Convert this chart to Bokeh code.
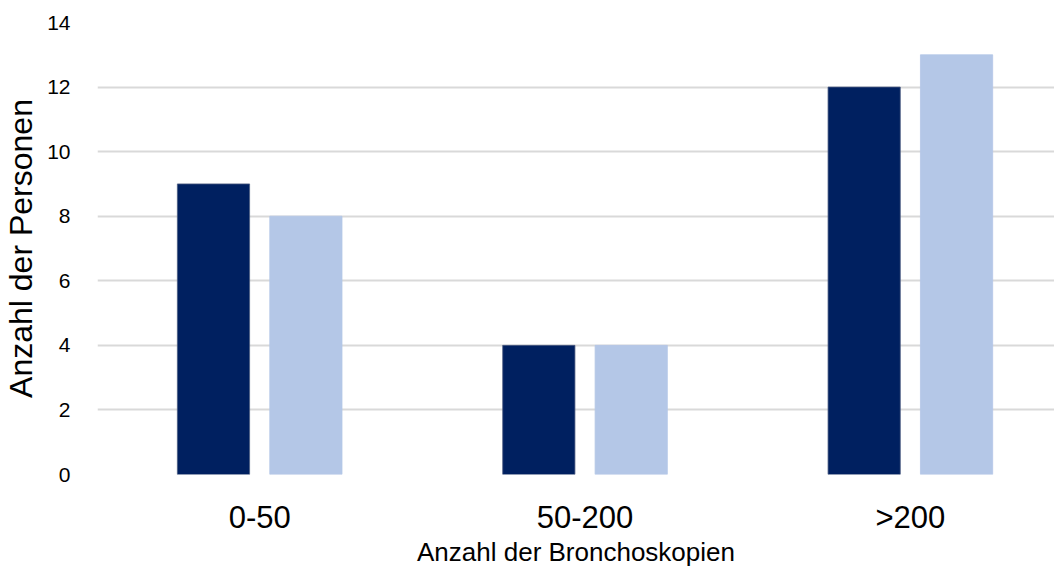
from bokeh.plotting import figure
from bokeh.models import Range1d, FixedTicker, ColumnDataSource
from bokeh.embed import file_html
from bokeh.resources import INLINE

categories = ["0-50", "50-200", ">200"]
series_a = [9, 4, 12]
series_b = [8, 4, 13]
y_ticks = [0, 2, 4, 6, 8, 10, 12, 14]
x_title = "Anzahl der Bronchoskopien"
y_title = "Anzahl der Personen"

centers = [i + 0.5 for i in range(len(categories))]
offset = 0.142
bar_w = 0.222

src_a = ColumnDataSource(dict(x=[c - offset for c in centers], top=series_a))
src_b = ColumnDataSource(dict(x=[c + offset for c in centers], top=series_b))

p = figure(width=1054, height=569, output_backend="svg", toolbar_location=None,
           x_range=Range1d(0.0015, 0.0015 + 956 / 325), y_range=Range1d(0, 14),
           min_border_left=90, min_border_right=0, min_border_top=22, min_border_bottom=95)
p.outline_line_color = None
p.background_fill_color = "white"
p.border_fill_color = "white"

p.vbar(x="x", top="top", width=bar_w, bottom=0, source=src_a,
       fill_color="#002060", line_color="#4a5a80", line_width=0.8)
p.vbar(x="x", top="top", width=bar_w, bottom=0, source=src_b,
       fill_color="#B4C7E7", line_color="#B4C7E7", line_width=0.8)

font = "Liberation Sans"

p.xgrid.visible = False
p.ygrid.grid_line_color = "#d9d9d9"
p.ygrid.grid_line_width = 2
p.ygrid.level = "underlay"

p.yaxis.ticker = FixedTicker(ticks=y_ticks)
p.yaxis.axis_line_color = None
p.yaxis.major_tick_line_color = None
p.yaxis.minor_tick_line_color = None
p.yaxis.major_label_text_font = font
p.yaxis.major_label_text_font_size = "21px"
p.yaxis.major_label_text_color = "#000000"
p.yaxis.major_label_standoff = 21
p.yaxis.axis_label = y_title
p.yaxis.axis_label_text_font = font
p.yaxis.axis_label_text_font_size = "32px"
p.yaxis.axis_label_text_font_style = "normal"
p.yaxis.axis_label_text_color = "#000000"
p.yaxis.axis_label_standoff = 5

p.xaxis.ticker = FixedTicker(ticks=centers)
p.xaxis.major_label_overrides = {c: lab for c, lab in zip(centers, categories)}
p.xaxis.axis_line_color = None
p.xaxis.major_tick_line_color = None
p.xaxis.minor_tick_line_color = None
p.xaxis.major_label_text_font = font
p.xaxis.major_label_text_font_size = "31px"
p.xaxis.major_label_text_color = "#000000"
p.xaxis.major_label_standoff = 19
p.xaxis.axis_label = x_title
p.xaxis.axis_label_text_font = font
p.xaxis.axis_label_text_font_size = "26px"
p.xaxis.axis_label_text_font_style = "normal"
p.xaxis.axis_label_text_color = "#000000"
p.xaxis.axis_label_standoff = -1

open("out.html", "w").write(file_html(p, INLINE))
